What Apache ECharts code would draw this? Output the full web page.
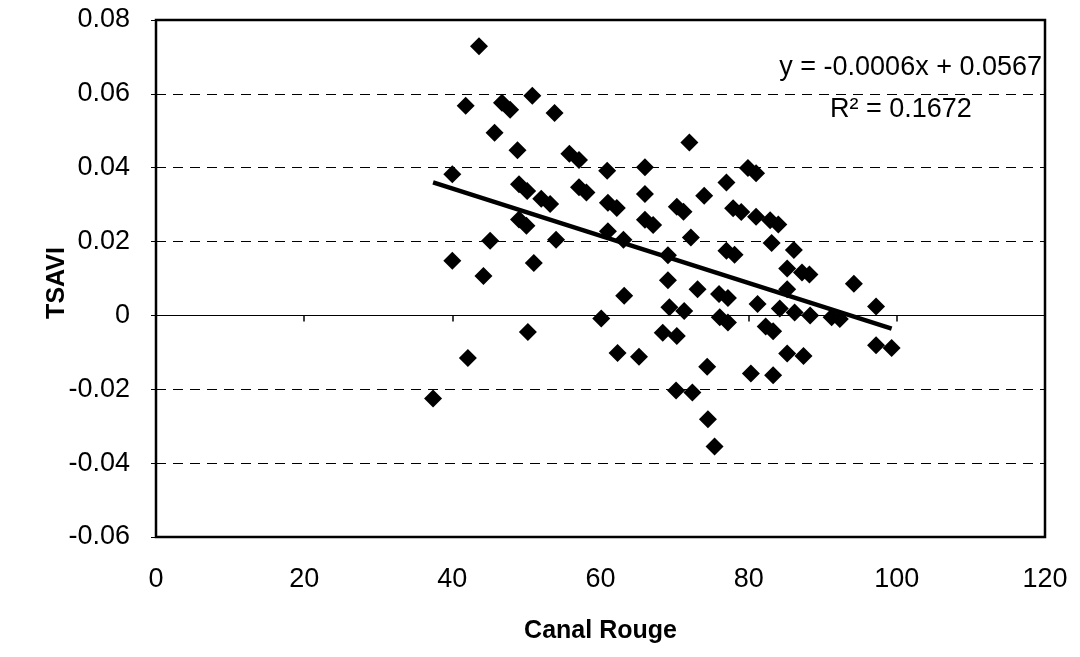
<!DOCTYPE html>
<html>
<head>
<meta charset="utf-8">
<script src="https://cdn.jsdelivr.net/npm/echarts@6/dist/echarts.min.js"></script>
<style>
html,body{margin:0;padding:0;background:#fff;}
#chart{width:1080px;height:657px;}
</style>
</head>
<body>
<div id="chart"></div>
<script>
// Canal Rouge (x) values
const canalRouge = [
  37.4, 40.0, 40.0, 41.8, 42.1, 43.6, 44.2, 45.1, 45.7, 46.7,
  47.8, 48.8, 49.0, 50.1, 49.0, 50.0, 50.2, 50.8, 51.0, 52.0,
  53.2, 53.8, 54.0, 55.8, 57.1, 57.1, 58.1, 60.1, 60.9, 61.0,
  62.2, 61.0, 63.1, 62.3, 63.2, 65.2, 66.0, 66.0, 66.0, 67.1,
  68.4, 69.1, 69.1, 69.3, 70.3, 71.2, 70.3, 71.3, 70.2, 72.4,
  72.0, 72.2, 73.1, 74.0, 74.4, 74.5, 75.4, 76.0, 77.2, 76.1,
  77.2, 77.0, 77.0, 78.1, 77.9, 79.0, 79.9, 81.0, 81.0, 80.3,
  81.2, 82.3, 83.3, 83.3, 82.9, 84.0, 83.1, 84.2, 85.2, 85.2,
  85.2, 86.1, 86.2, 87.2, 88.2, 88.3, 87.4, 91.2, 92.3, 94.2,
  97.2, 97.2, 99.3
];
// TSAVI (y) values
const tsavi = [
  -0.0225, 0.0382, 0.0148, 0.0568, -0.0115, 0.0729, 0.0107, 0.0202, 0.0495, 0.0576,
  0.0557, 0.0447, 0.0355, 0.0337, 0.0260, 0.0243, -0.0045, 0.0595, 0.0142, 0.0316,
  0.0302, 0.0548, 0.0205, 0.0438, 0.0421, 0.0347, 0.0333, -0.0008, 0.0392, 0.0305,
  0.0291, 0.0228, 0.0205, -0.0102, 0.0053, -0.0112, 0.0401, 0.0329, 0.0259, 0.0245,
  -0.0047, 0.0163, 0.0095, 0.0022, 0.0294, 0.0281, -0.0056, 0.0012, -0.0203, -0.0209,
  0.0468, 0.0211, 0.0071, 0.0324, -0.0139, -0.0281, -0.0355, 0.0058, 0.0047, -0.0005,
  -0.0019, 0.0360, 0.0175, 0.0164, 0.0290, 0.0280, 0.0399, 0.0385, 0.0267, -0.0157,
  0.0031, -0.0030, -0.0043, -0.0162, 0.0258, 0.0246, 0.0196, 0.0019, 0.0127, 0.0071,
  -0.0103, 0.0177, 0.0008, 0.0116, 0.0111, 0.0000, -0.0110, -0.0005, -0.0010, 0.0086,
  0.0024, -0.0081, -0.0088
];
const xTicks = [0, 20, 40, 60, 80, 100, 120];
const yTicks = [-0.06, -0.04, -0.02, 0, 0.02, 0.04, 0.06, 0.08];
const equationText = 'y = -0.0006x + 0.0567';
const r2Text = 'R\u00b2 = 0.1672';
const xTitle = 'Canal Rouge';
const yTitle = 'TSAVI';

const points = canalRouge.map((x, i) => [x, tsavi[i]]);

// least-squares trend line (Excel linear trendline)
const n = points.length;
let sx = 0, sy = 0, sxx = 0, sxy = 0;
points.forEach(([x, y]) => { sx += x; sy += y; sxx += x * x; sxy += x * y; });
const slope = (n * sxy - sx * sy) / (n * sxx - sx * sx);
const intercept = (sy - slope * sx) / n;
const xMin = Math.min(...canalRouge), xMax = Math.max(...canalRouge);
const trend = [[xMin, intercept + slope * xMin], [xMax, intercept + slope * xMax]];

const FONT = '"Liberation Sans", Arial, sans-serif';
const chart = echarts.init(document.getElementById('chart'));
chart.setOption({
  backgroundColor: '#fff',
  animation: false,
  grid: {
    left: 156, right: 35, top: 20, bottom: 120,
    show: true, borderColor: '#000', borderWidth: 2.5, backgroundColor: 'transparent'
  },
  xAxis: [{
    type: 'value', min: xTicks[0], max: xTicks[xTicks.length - 1], interval: 20,
    position: 'bottom',
    axisLine: { show: false, onZero: false },
    axisTick: { show: false },
    splitLine: { show: false },
    axisLabel: { color: '#000', fontFamily: FONT, fontSize: 27, margin: 29 },
    name: xTitle, nameLocation: 'middle', nameGap: 82,
    nameTextStyle: { color: '#000', fontFamily: FONT, fontSize: 25, fontWeight: 'bold' }
  }, {
    type: 'value', min: xTicks[0], max: xTicks[xTicks.length - 1], interval: 20,
    position: 'top',
    axisLine: { show: true, onZero: true, lineStyle: { color: '#000', width: 1 } },
    axisTick: { show: true, inside: true, length: 6, lineStyle: { color: '#000', width: 1.5 } },
    splitLine: { show: false },
    axisLabel: { show: false }
  }],
  yAxis: {
    type: 'value', min: yTicks[0], max: yTicks[yTicks.length - 1], interval: 0.02,
    axisLine: { show: false },
    axisTick: { show: true, length: 5, lineStyle: { color: '#000', width: 1 } },
    splitLine: { show: true, lineStyle: { color: '#000', type: [10, 7], width: 1 } },
    axisLabel: {
      color: '#000', fontFamily: FONT, fontSize: 27, margin: 26,
      formatter: v => Math.abs(v) < 1e-9 ? '0' : v.toFixed(2)
    }
  },
  series: [{
    type: 'scatter',
    data: points,
    symbol: 'diamond',
    symbolSize: 18,
    itemStyle: { color: '#000', opacity: 1 },
    z: 3
  }, {
    type: 'line',
    data: trend,
    symbol: 'none',
    lineStyle: { color: '#000', width: 4.5 },
    z: 4
  }],
  graphic: [{
    type: 'text', right: 38, top: 54,
    style: { text: equationText, font: '27px ' + FONT, fill: '#000' }
  }, {
    type: 'text', left: 830, top: 96,
    style: { text: r2Text, font: '27px ' + FONT, fill: '#000' }
  }, {
    type: 'text', x: 57, y: 283, rotation: Math.PI / 2,
    style: { text: yTitle, font: 'bold 25px ' + FONT, fill: '#000', align: 'center', verticalAlign: 'middle' }
  }]
});
</script>
</body>
</html>
